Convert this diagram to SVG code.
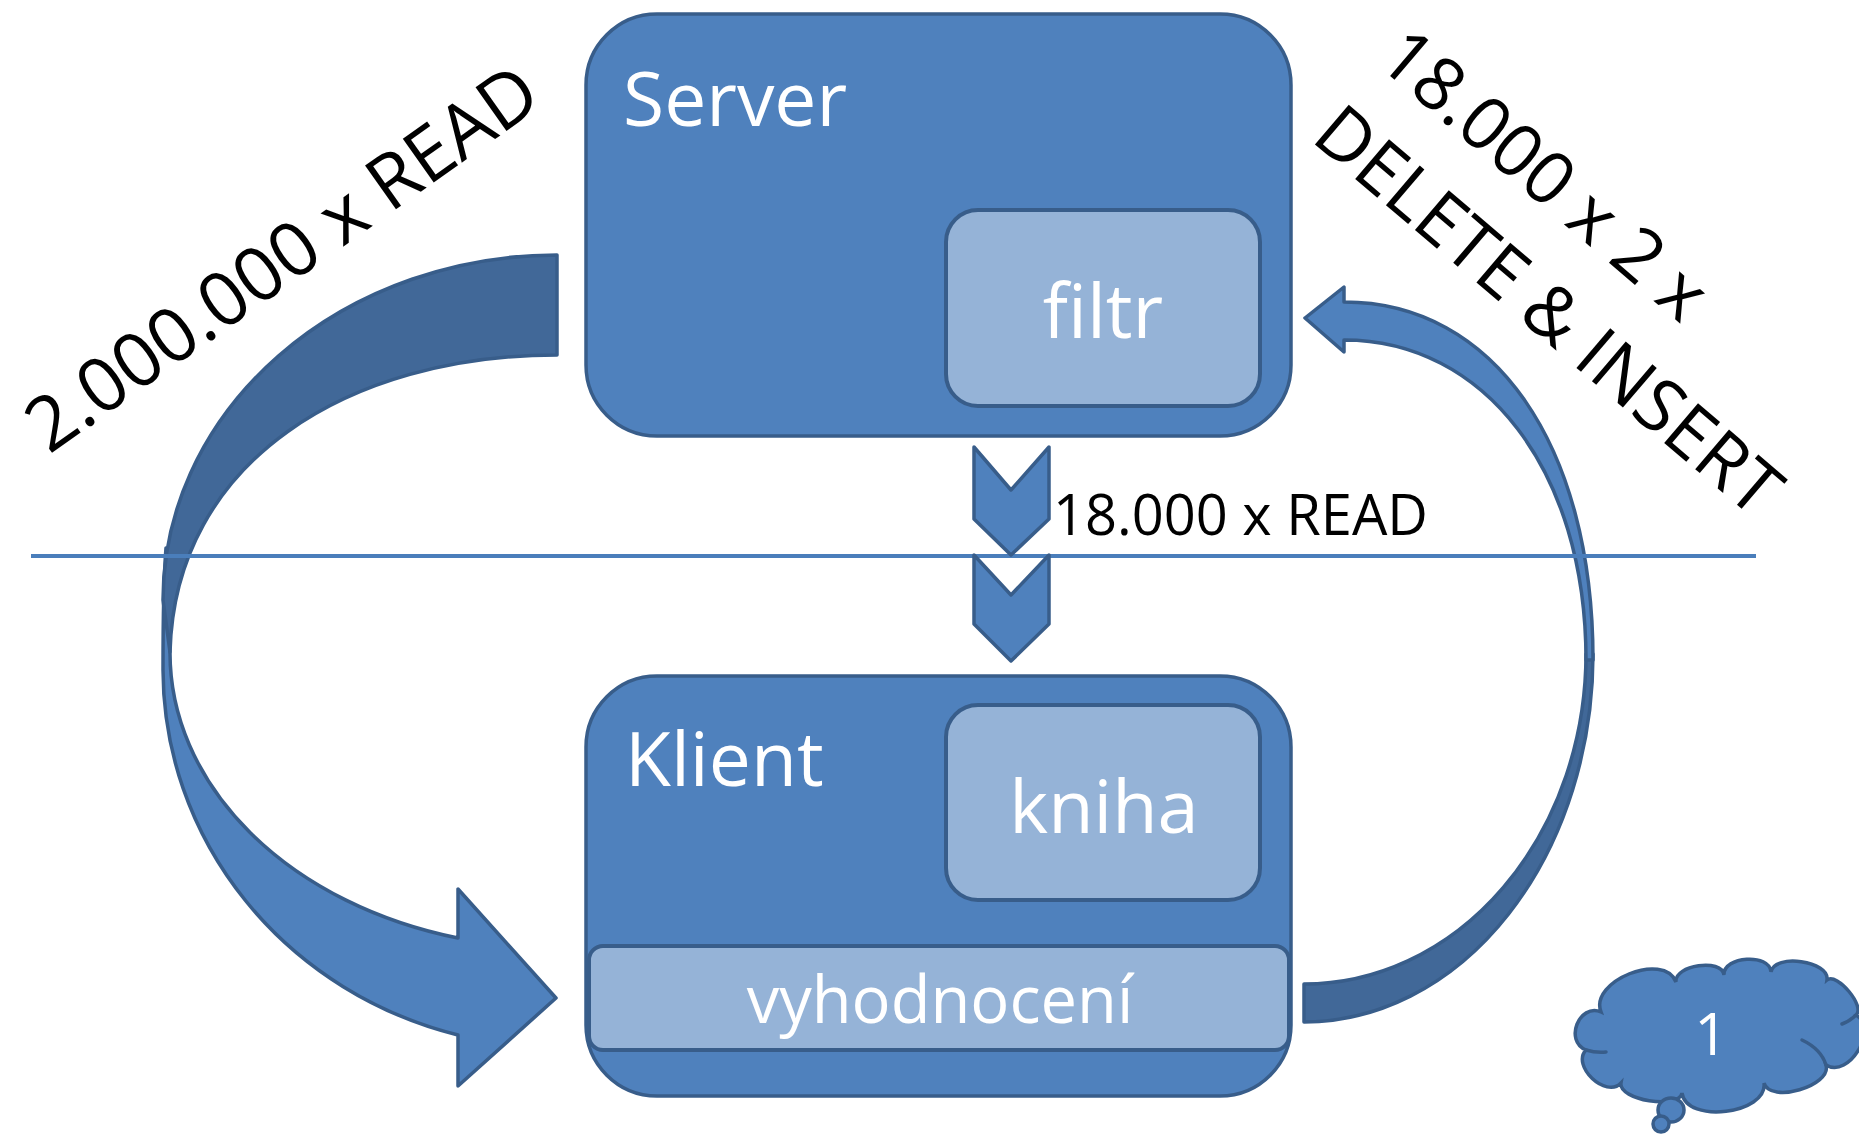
<svg xmlns="http://www.w3.org/2000/svg" width="1859" height="1135" viewBox="0 0 1859 1135">
<style>
.box{fill:#4f81bd;stroke:#385d8a;stroke-width:3.5}
.inner{fill:#95b3d7;stroke:#385d8a;stroke-width:4}
.arr{fill:#4f81bd;stroke:#385d8a;stroke-width:3.5;stroke-linejoin:round}
.dark{fill:#416898;stroke:#385d8a;stroke-width:3.5;stroke-linejoin:round}
.wt{font-family:'Open Sans','Noto Sans',sans-serif;fill:#fff}
.bk{font-family:'Open Sans','Noto Sans',sans-serif;fill:#000}
.thin{fill:none;stroke:#385d8a;stroke-width:3.5;stroke-linecap:round}
</style>
<g id="connectors">
  <g id="arrow-left">
    <path class="arr" d="M166,548 C163,585 163,625 163,670 A394 378 0 0 0 458,1035 L458,1086 L556,998 L458,889 L458,938 A387 295 0 0 1 170,652 Z"/>
    <path class="dark" d="M557,255 A394 345 0 0 0 163,600 L170,652 C175,460 350,355 557,355 Z"/>
  </g>
  <g id="arrow-right">
    <path class="dark" d="M1304,1022 A289 368 0 0 0 1593,654 L1586,654 A282 330 0 0 1 1304,984 Z"/>
    <path class="arr" d="M1344,302 C1494,302 1593,445 1593,660 L1586,660 C1586,470 1484,340 1344,340 L1344,352 L1305,318 L1344,287 Z"/>
  </g>
  <line id="divider" x1="31" y1="556" x2="1756" y2="556" stroke="#4a7ebb" stroke-width="4"/>
  <g id="chevrons">
    <path class="arr" d="M974,447 L1011,490 L1049,447 L1049,519 L1011,555 L974,519 Z"/>
    <path class="arr" d="M974,555 L1011,595 L1049,555 L1049,624 L1011,661 L974,624 Z"/>
  </g>
</g>
<g id="server">
  <rect class="box" x="586" y="14" width="705" height="422" rx="71"/>
  <text class="wt" x="623" y="126" font-size="75">Server</text>
</g>
<g id="filtr">
  <rect class="inner" x="946" y="210" width="314" height="196" rx="32"/>
  <text class="wt" x="1103" y="338" font-size="75" text-anchor="middle">filtr</text>
</g>
<g id="klient">
  <rect class="box" x="586" y="676" width="705" height="420" rx="71"/>
  <text class="wt" x="625" y="786" font-size="75">Klient</text>
</g>
<g id="kniha">
  <rect class="inner" x="946" y="705" width="314" height="195" rx="32"/>
  <text class="wt" x="1104" y="833" font-size="74" text-anchor="middle">kniha</text>
</g>
<g id="vyhodnoceni">
  <rect class="inner" x="589" y="946" width="700" height="104" rx="14"/>
  <text class="wt" x="940" y="1023" font-size="65" text-anchor="middle">vyhodnocení</text>
</g>
<g id="labels">
  <text class="bk" transform="translate(49,455) rotate(-35.3)" font-size="75">2.000.000 x READ</text>
  <text class="bk" transform="translate(1375,63) rotate(40.5)" font-size="73"><tspan x="0" y="0">18.000 x 2 x</tspan><tspan x="0" y="101">DELETE &amp; INSERT</tspan></text>
  <text class="bk" x="1053" y="535" font-size="56">18.000 x READ</text>
</g>
<g id="cloud">
  <path class="box" d="M1601,1012 C1589,981 1664,951 1676,982 C1674,965 1722,958 1724,975 C1723,956 1770,953 1771,972 C1774,953 1830,961 1827,980 C1837,972 1866,1007 1856,1015 C1879,1029 1849,1079 1826,1065 C1832,1086 1770,1104 1764,1083 C1768,1114 1686,1124 1682,1093 C1679,1110 1618,1100 1621,1083 C1606,1099 1571,1066 1586,1050 C1564,1041 1579,1003 1601,1012 Z"/>
  <path class="thin" d="M1586,1050 Q1596,1053 1606,1052"/>
  <path class="thin" d="M1856,1015 Q1850,1021 1842,1024"/>
  <path class="thin" d="M1802,1040 Q1821,1049 1826,1065"/>
  <ellipse class="box" cx="1671" cy="1110" rx="13" ry="12"/>
  <circle class="box" cx="1661" cy="1124" r="8" fill="#385d8a"/>
  <text class="wt" x="1711" y="1055" font-size="59" text-anchor="middle">1</text>
</g>
</svg>
